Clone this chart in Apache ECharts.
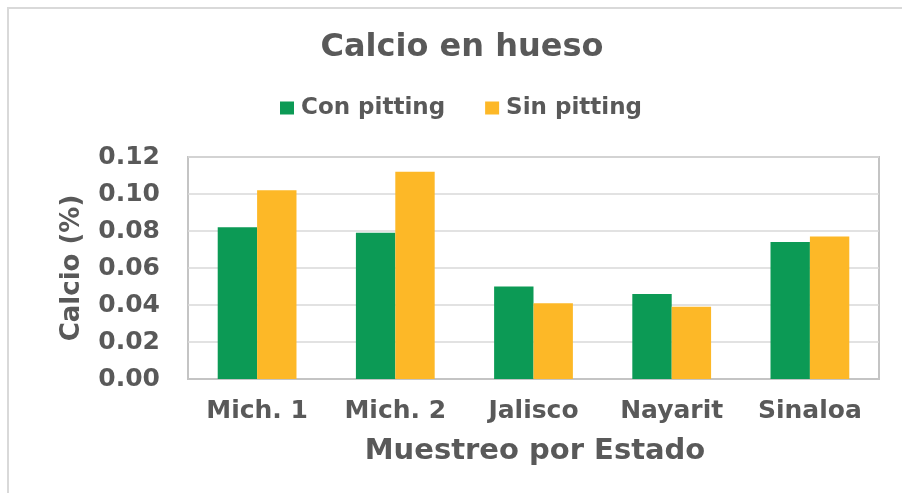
<!DOCTYPE html>
<html>
<head>
<meta charset="utf-8">
<script src="https://cdn.jsdelivr.net/npm/echarts@6/dist/echarts.min.js"></script>
<style>
html,body{margin:0;padding:0;background:#fff;}
#chart{width:902px;height:493px;}
</style>
</head>
<body>
<div id="chart"></div>
<script>
var categories = ['Mich. 1', 'Mich. 2', 'Jalisco', 'Nayarit', 'Sinaloa'];
var conPitting = [0.082, 0.079, 0.050, 0.046, 0.074];
var sinPitting = [0.102, 0.112, 0.041, 0.039, 0.077];
var yTicks = [0, 0.02, 0.04, 0.06, 0.08, 0.10, 0.12];
var titleText = 'Calcio en hueso';
var xName = 'Muestreo por Estado';
var yName = 'Calcio (%)';
var seriesNames = ['Con pitting', 'Sin pitting'];

var FONT = 'DejaVu Sans';
var TXT = '#595959';
var chart = echarts.init(document.getElementById('chart'), null, {renderer: 'canvas'});
chart.setOption({
  animation: false,
  backgroundColor: '#fff',
  graphic: [
    {type: 'rect', shape: {x: 8, y: 8, width: 910, height: 500}, style: {fill: 'none', stroke: '#d9d9d9', lineWidth: 2}, silent: true},
    {type: 'text', x: 462, y: 48, style: {text: titleText, font: 'bold 32px "DejaVu Sans"', fill: TXT, align: 'center', verticalAlign: 'middle'}},
    {type: 'text', x: 535, y: 451, style: {text: xName, font: 'bold 29px "DejaVu Sans"', fill: TXT, align: 'center', verticalAlign: 'middle'}},
    {type: 'text', x: 72, y: 268, rotation: Math.PI / 2, style: {text: yName, font: 'bold 26px "DejaVu Sans"', fill: TXT, align: 'center', verticalAlign: 'middle'}}
  ],
  legend: {
    data: seriesNames,
    left: 275,
    top: 91,
    itemWidth: 14,
    itemHeight: 13,
    itemGap: 40,
    icon: 'rect',
    textStyle: {fontFamily: FONT, fontWeight: 'bold', fontSize: 23, color: TXT, lineHeight: 24, padding: [0, 0, 0, 2]}
  },
  grid: {left: 188, right: 23, top: 157, bottom: 114, show: true, borderColor: '#c4c4c4', borderWidth: 2, backgroundColor: 'transparent'},
  xAxis: {
    type: 'category',
    data: categories,
    axisLine: {show: true, lineStyle: {color: '#c4c4c4', width: 2}},
    axisTick: {show: false},
    axisLabel: {fontFamily: FONT, fontWeight: 'bold', fontSize: 25, color: TXT, margin: 20, interval: 0}
  },
  yAxis: {
    type: 'value',
    min: yTicks[0],
    max: yTicks[yTicks.length - 1],
    interval: 0.02,
    axisLine: {show: false},
    axisTick: {show: false},
    splitLine: {show: true, lineStyle: {color: '#d9d9d9', width: 1.5}},
    axisLabel: {fontFamily: FONT, fontWeight: 'bold', fontSize: 25, color: TXT, margin: 28,
      formatter: function (v) { return v.toFixed(2); }}
  },
  series: [
    {name: seriesNames[0], type: 'bar', data: conPitting, barWidth: '28.5%', barGap: '0%', itemStyle: {color: '#0c9a55'}},
    {name: seriesNames[1], type: 'bar', data: sinPitting, barWidth: '28.5%', barGap: '0%', itemStyle: {color: '#fdb827'}}
  ]
});
</script>
</body>
</html>
